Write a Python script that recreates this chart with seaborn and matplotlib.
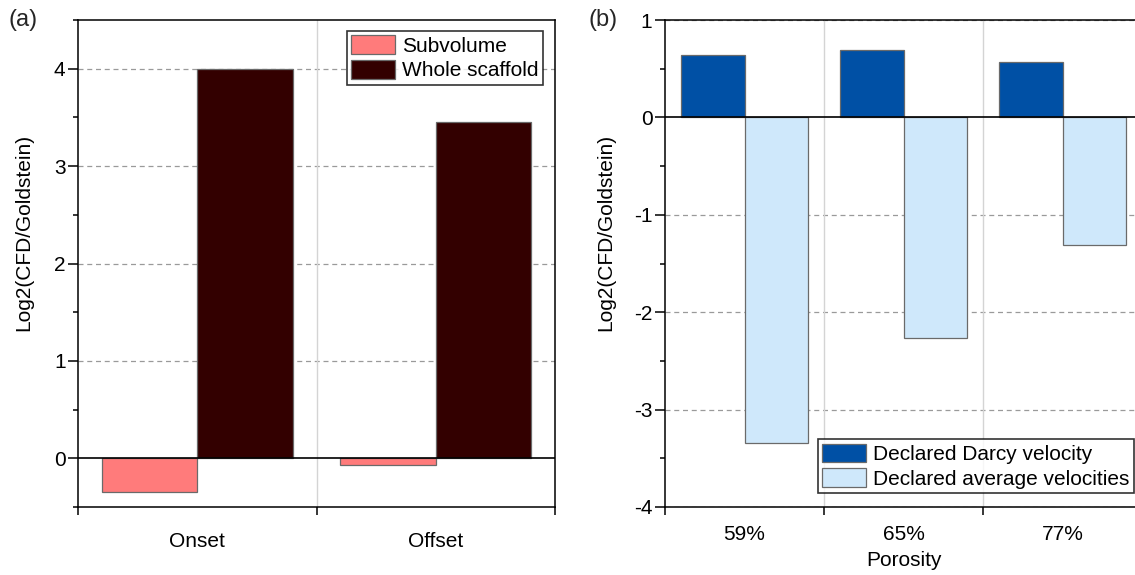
import matplotlib
matplotlib.use("Agg")
import matplotlib.pyplot as plt
import seaborn as sns
import pandas as pd
from matplotlib.ticker import MultipleLocator, FixedLocator, NullFormatter, FixedFormatter

# ---- data ----
cats_a = ["Onset", "Offset"]
subvolume = [-0.35, -0.07]
whole_scaffold = [4.0, 3.45]
series_a = ["Subvolume", "Whole scaffold"]

cats_b = ["59%", "65%", "77%"]
darcy = [0.645, 0.69, 0.57]
average = [-3.34, -2.26, -1.31]
series_b = ["Declared Darcy velocity", "Declared average velocities"]

colors_a = ["#FF7B7B", "#330000"]
colors_b = ["#0050A5", "#CFE8FB"]

df_a = pd.DataFrame({
    "cat": cats_a * 2,
    "val": subvolume + whole_scaffold,
    "series": [series_a[0]] * 2 + [series_a[1]] * 2,
})
df_b = pd.DataFrame({
    "cat": cats_b * 2,
    "val": darcy + average,
    "series": [series_b[0]] * 3 + [series_b[1]] * 3,
})

sns.set_theme(style="white")
plt.rcParams["font.family"] = ["Liberation Sans", "DejaVu Sans"]
plt.rcParams["axes.unicode_minus"] = False
FS = 15
plt.rcParams["font.size"] = FS

fig = plt.figure(figsize=(11.35, 5.75), dpi=100)
ax_a = fig.add_axes([78 / 1135, 68 / 575, 477 / 1135, 487 / 575])
ax_b = fig.add_axes([665 / 1135, 68 / 575, 477 / 1135, 487 / 575])


def style(ax, ylim, ncat, majors, label_x, xpad):
    ax.set_ylim(*ylim)
    ax.set_xlim(-0.5, ncat - 0.5)
    ax.set_axisbelow(True)
    for m in majors:
        if m != 0:
            ax.axhline(m, color="#9a9a9a", lw=0.9, ls=(0, (4, 3)), zorder=0)
    for b in range(ncat - 1):
        ax.axvline(b + 0.5, color="#d4d4d4", lw=1.0, zorder=0)
    ax.axhline(0, color="black", lw=1.2, zorder=5)
    ax.yaxis.set_major_locator(FixedLocator(majors))
    ax.yaxis.set_minor_locator(MultipleLocator(0.5))
    ax.xaxis.set_major_locator(FixedLocator([i - 0.5 for i in range(ncat + 1)]))
    ax.xaxis.set_major_formatter(NullFormatter())
    ax.xaxis.set_minor_locator(FixedLocator(list(range(ncat))))
    ax.tick_params(axis="y", which="major", direction="out", length=7, width=1.1,
                   color="black", labelsize=FS, labelcolor="black", left=True, pad=2)
    ax.tick_params(axis="x", which="major", direction="out", length=6, width=1.1,
                   color="black", bottom=True)
    ax.tick_params(axis="y", which="minor", direction="out", length=3.5, width=1.1,
                   color="black", left=True)
    ax.tick_params(axis="x", which="minor", length=0, labelsize=FS, pad=xpad,
                   labelcolor="black", bottom=True)
    for s in ax.spines.values():
        s.set_color("black")
        s.set_linewidth(1.1)
        s.set_visible(True)
    ax.set_ylabel("Log2(CFD/Goldstein)", fontsize=FS, color="black")
    ax.yaxis.set_label_coords(label_x, 0.563)


sns.barplot(data=df_a, x="cat", y="val", hue="series", palette=colors_a, width=0.8,
            saturation=1, edgecolor="#6a6a6a", linewidth=0.9, ax=ax_a, zorder=3, legend=True)
sns.barplot(data=df_b, x="cat", y="val", hue="series", palette=colors_b, width=0.8,
            saturation=1, edgecolor="#6a6a6a", linewidth=0.9, ax=ax_b, zorder=3, legend=True)

style(ax_a, (-0.5, 4.5), 2, [0, 1, 2, 3, 4], -0.094, 18)
ax_a.xaxis.set_minor_formatter(FixedFormatter(cats_a))
ax_a.set_xlabel("")

style(ax_b, (-4, 1), 3, [-4, -3, -2, -1, 0, 1], -0.105, 13)
ax_b.xaxis.set_minor_formatter(FixedFormatter(cats_b))
ax_b.set_xlabel("Porosity", fontsize=FS, color="black", labelpad=5)

legend_kw = dict(frameon=True, fancybox=False, edgecolor="black", fontsize=FS,
                 handlelength=2.1, handleheight=1.0, borderpad=0.2, labelspacing=0.2,
                 handletextpad=0.35, borderaxespad=0)
leg_a = ax_a.legend(loc="upper right", bbox_to_anchor=(0.975, 0.977), **legend_kw)
leg_b = ax_b.legend(loc="lower right", bbox_to_anchor=(0.983, 0.029), **legend_kw)
for leg in (leg_a, leg_b):
    leg.get_frame().set_linewidth(1.2)
    leg.set_zorder(10)
    for t in leg.get_texts():
        t.set_color("black")

fig.text(8 / 1135, 1 - 20 / 575, "(a)", fontsize=17, va="center", ha="left")
fig.text(588 / 1135, 1 - 20 / 575, "(b)", fontsize=17, va="center", ha="left")

fig.savefig("out.png", dpi=100)
